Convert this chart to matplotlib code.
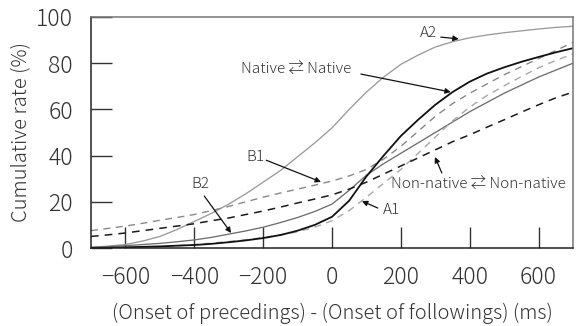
import matplotlib
matplotlib.use("Agg")
import matplotlib.pyplot as plt

x_ms = [-700, -650, -600, -550, -500, -450, -400, -350, -300, -250, -200, -150, -100, -50,
        0, 50, 100, 150, 200, 250, 300, 350, 400, 450, 500, 550, 600, 650, 700]
native = [0.0, 0.1, 0.3, 0.5, 0.7, 1.0, 1.3, 1.8, 2.5, 3.3, 4.3, 5.6, 7.5, 10.0,
          13.5, 20.5, 31.0, 40.0, 48.5, 55.5, 62.0, 67.5, 72.0, 75.5, 78.2, 80.6, 82.7, 84.7, 86.5]
nonnative = [5.0, 5.7, 6.5, 7.5, 8.5, 9.5, 10.5, 11.8, 13.0, 14.5, 16.0, 17.7, 19.5, 21.2,
             23.0, 25.5, 28.5, 32.0, 35.5, 39.0, 42.5, 46.0, 49.0, 52.3, 55.5, 58.8, 62.0, 65.0, 67.5]
a1 = [0.0, 0.1, 0.2, 0.4, 0.6, 1.0, 1.5, 2.1, 2.8, 3.6, 4.5, 5.7, 7.0, 9.0,
      11.8, 16.2, 22.0, 28.0, 34.0, 41.0, 48.0, 55.0, 61.0, 66.0, 70.2, 74.2, 78.0, 81.2, 84.0]
a2 = [0.3, 0.8, 1.5, 3.0, 5.0, 8.0, 11.5, 15.0, 19.0, 23.5, 28.5, 33.5, 39.5, 45.5,
      52.0, 60.0, 67.5, 74.0, 79.5, 83.5, 87.0, 89.3, 91.0, 92.2, 93.2, 94.0, 94.8, 95.5, 96.0]
b1 = [7.5, 8.5, 9.5, 10.7, 12.0, 13.2, 14.5, 16.2, 18.0, 20.0, 22.0, 23.8, 25.5, 27.2,
      29.0, 31.2, 34.0, 38.5, 44.0, 50.5, 57.0, 62.5, 67.0, 71.0, 75.0, 78.5, 82.0, 85.5, 89.0]
b2 = [0.3, 0.6, 1.0, 1.5, 2.0, 2.7, 3.5, 4.6, 6.0, 7.4, 9.0, 11.0, 13.2, 15.8,
      19.0, 25.0, 31.5, 36.5, 41.0, 45.5, 50.0, 54.5, 59.0, 63.0, 67.0, 70.5, 74.0, 77.0, 80.0]

x_ticks = [-600, -400, -200, 0, 200, 400, 600]
y_ticks = [0, 20, 40, 60, 80, 100]

plt.rcParams['font.family'] = ['Noto Sans CJK JP', 'DejaVu Sans']
plt.rcParams['font.weight'] = 'light'

fig = plt.figure(figsize=(5.76, 3.26), dpi=100)
ax = fig.add_axes([91/576, 78/326, 482/576, 231/326])

ax.plot(x_ms, a2, color='#9a9a9a', lw=0.95)
ax.plot(x_ms, b2, color='#6e6e6e', lw=0.95)
ax.plot(x_ms, a1, color='#a8a8a8', lw=1.0, dashes=(5, 4))
ax.plot(x_ms, b1, color='#888888', lw=1.0, dashes=(5, 4))
ax.plot(x_ms, nonnative, color='#1a1a1a', lw=1.1, dashes=(5, 4))
ax.plot(x_ms, native, color='#111111', lw=1.3)

ax.set_xlim(-700, 700)
ax.set_ylim(0, 100)
ax.set_xticks(x_ticks)
ax.set_xticklabels([f"{v}".replace('-', '\u2212') for v in x_ticks])
ax.set_yticks(y_ticks)
ax.tick_params(direction='in', length=15, width=1.0, labelsize=16.5, colors='#333333')
ax.tick_params(axis='x', pad=12.5)
ax.tick_params(axis='y', pad=13)
for lab in ax.get_xticklabels() + ax.get_yticklabels():
    lab.set_fontweight('light')
for s in ['left', 'bottom']:
    ax.spines[s].set_color('#222222')
    ax.spines[s].set_linewidth(1.1)
for s in ['top', 'right']:
    ax.spines[s].set_color('#777777')
    ax.spines[s].set_linewidth(1.1)

ax.set_xlabel('(Onset of precedings) - (Onset of followings) (ms)', fontsize=14.5,
              color='#333333', labelpad=9, fontweight='light')
ax.set_ylabel('Cumulative rate (%)', fontsize=14.5, color='#333333', labelpad=3,
              fontweight='light')

ap = dict(arrowstyle='-|>', color='#111111', lw=0.9, mutation_scale=8, shrinkA=0, shrinkB=0)
tk = dict(fontsize=11, color='#333333', ha='center', va='center', fontweight='light')
ax.annotate('', xy=(368, 90.5), xytext=(316, 91.3), arrowprops=ap)
ax.text(281, 93, 'A2', **tk)
ax.annotate('', xy=(345, 67.5), xytext=(84, 75.3), arrowprops=ap)
ax.text(-104, 77.3, 'Native \u21c4 Native', **tk)
ax.annotate('', xy=(-32, 28.6), xytext=(-191, 38), arrowprops=ap)
ax.text(-223, 39.4, 'B1', **tk)
ax.annotate('', xy=(-293, 6.5), xytext=(-371, 22.5), arrowprops=ap)
ax.text(-383, 27.7, 'B2', **tk)
ax.annotate('', xy=(87, 20.3), xytext=(133, 17.3), arrowprops=ap)
ax.text(174, 16.5, 'A1', **tk)
ax.annotate('', xy=(299, 39.4), xytext=(319, 32.5), arrowprops=ap)
ax.text(426, 27.3, 'Non-native \u21c4 Non-native', **tk)

fig.savefig('out.png', dpi=100)
